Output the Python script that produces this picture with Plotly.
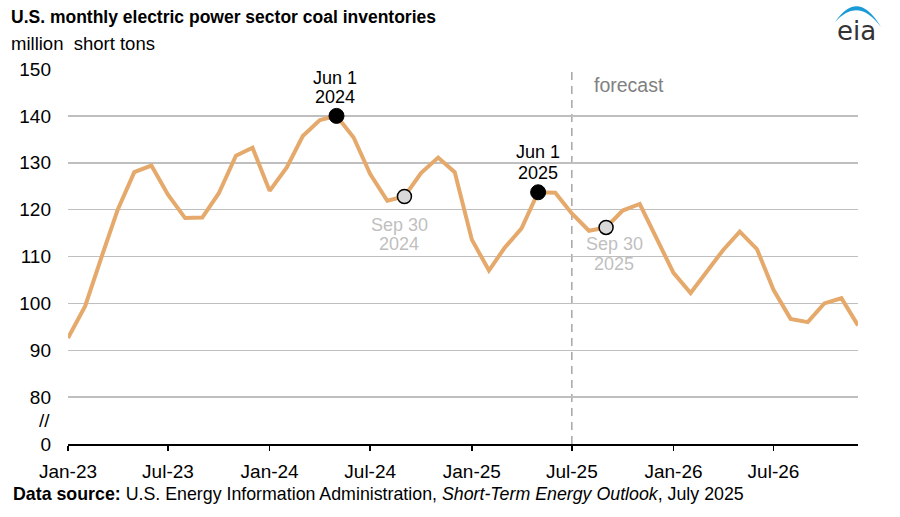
import plotly.graph_objects as go
import pandas as pd

# ---------------- data ----------------
months = pd.date_range("2023-01-01", "2026-12-01", freq="MS").strftime("%Y-%m-%d").tolist()
inventory = [
    92.6, 99.4, 109.3, 120.0, 128.0, 129.4, 123.2, 118.2, 118.3, 123.5, 131.5, 133.2,
    124.0, 129.0, 135.7, 139.1, 140.0, 135.4, 127.6, 121.9, 122.8, 127.8, 131.1, 128.0,
    113.6, 107.0, 111.8, 116.0, 123.7, 123.6, 119.2, 115.5, 116.2, 119.8, 121.2, 113.9,
    106.5, 102.2, 106.5, 111.4, 115.3, 111.6, 102.9, 96.7, 96.0, 100.0, 101.1, 95.3,
]
forecast_start = "2025-07-01"
peak_idx = [16, 28]          # end of May -> "Jun 1"
sep_idx = [20, 32]           # "Sep 30"
peak_labels = [("Jun 1", "2024"), ("Jun 1", "2025")]
sep_labels = [("Sep 30", "2024"), ("Sep 30", "2025")]
y_tickvals = [70, 80, 90, 100, 110, 120, 130, 140, 150]
y_ticktext = ["0", "80", "90", "100", "110", "120", "130", "140", "150"]

# ---------------- layout helpers ----------------
W, H = 900, 517
L, R, T, B = 68, 858, 69, 444
def px(x):
    return (x - L) / (R - L)
def py(y):
    return (B - y) / (B - T)

FONT = "Liberation Sans, Arial, sans-serif"
LINE_COLOR = "#E5A96C"
TICK_SIZE = 19

fig = go.Figure()
fig.add_trace(go.Scatter(x=months, y=inventory, mode="lines",
                         line=dict(color=LINE_COLOR, width=4),
                         hoverinfo="skip"))
fig.add_trace(go.Scatter(x=[months[i] for i in peak_idx], y=[inventory[i] for i in peak_idx],
                         mode="markers",
                         marker=dict(color="black", size=15, line=dict(color="black", width=1))))
fig.add_trace(go.Scatter(x=[months[i] for i in sep_idx], y=[inventory[i] for i in sep_idx],
                         mode="markers",
                         marker=dict(color="#D9D9D9", size=14, line=dict(color="black", width=1.5))))

annotations = []
# (x offset px, y offset of first line px, y offset of second line px) relative to marker
peak_offsets = [(-1, 38, 18.5), (0, 40, 19.5)]
sep_offsets = [(-5, -28, -47.5), (8, -17, -37)]
for i, (l1, l2), (dx, d1, d2) in zip(peak_idx, peak_labels, peak_offsets):
    for txt, dy in ((l1, d1), (l2, d2)):
        annotations.append(dict(x=months[i], y=inventory[i], xref="x", yref="y", text=txt,
                                showarrow=False, yanchor="middle", yshift=dy, xshift=dx,
                                font=dict(family=FONT, size=18, color="black")))
for i, (l1, l2), (dx, d1, d2) in zip(sep_idx, sep_labels, sep_offsets):
    for txt, dy in ((l1, d1), (l2, d2)):
        annotations.append(dict(x=months[i], y=inventory[i], xref="x", yref="y", text=txt,
                                showarrow=False, yanchor="middle", yshift=dy, xshift=dx,
                                font=dict(family=FONT, size=18, color="#BFBFBF")))
annotations += [
    dict(x=px(592), y=py(85), xref="paper", yref="paper", text="forecast", showarrow=False,
         xanchor="left", yanchor="middle", font=dict(family=FONT, size=19.5, color="#808080")),
    dict(x=px(52), y=py(420), xref="paper", yref="paper", text="//", showarrow=False,
         xanchor="right", yanchor="middle", font=dict(family=FONT, size=TICK_SIZE, color="black")),
    dict(x=px(9), y=py(17), xref="paper", yref="paper",
         text="<b>U.S. monthly electric power sector coal inventories</b>", showarrow=False,
         xanchor="left", yanchor="middle", font=dict(family=FONT, size=17.5, color="black")),
    dict(x=px(9), y=py(43), xref="paper", yref="paper", text="million  short tons",
         showarrow=False, xanchor="left", yanchor="middle",
         font=dict(family=FONT, size=18.5, color="black")),
    dict(x=px(11), y=py(494), xref="paper", yref="paper",
         text="<b>Data source:</b> U.S. Energy Information Administration, "
              "<i>Short-Term Energy Outlook</i>, July 2025",
         showarrow=False, xanchor="left", yanchor="middle",
         font=dict(family=FONT, size=17.8, color="black")),
    dict(x=px(856), y=py(31), xref="paper", yref="paper", text="eia", showarrow=False,
         xanchor="center", yanchor="middle",
         font=dict(family="DejaVu Sans, sans-serif", size=26, color="#333333")),
]

# eia arc (crescent)
ax0, ay0, ax1, ay1 = 835, 22, 881, 27
arc_path = (f"M {px(ax0)},{py(ay0)} Q {px(858)},{py(-12)} {px(ax1)},{py(ay1)} "
            f"Q {px(858)},{py(-4)} {px(ax0)},{py(ay0)} Z")

shapes = [
    dict(type="line", xref="x", yref="paper", x0=forecast_start, x1=forecast_start, y0=0, y1=1,
         line=dict(color="#A6A6A6", width=1.5, dash="8px,6px"), layer="below"),
    dict(type="path", xref="paper", yref="paper", path=arc_path,
         fillcolor="#1A9BD7", line=dict(width=0)),
]

fig.update_layout(
    width=W, height=H,
    margin=dict(l=L, r=W - R, t=T, b=H - B, pad=0),
    paper_bgcolor="white", plot_bgcolor="white",
    showlegend=False,
    font=dict(family=FONT, size=16, color="black"),
    annotations=annotations, shapes=shapes,
    xaxis=dict(type="date", range=[months[0], months[-1]], tick0=months[0], dtick="M6",
               tickformat="%b-%y", showgrid=False, showline=True, linecolor="black",
               linewidth=2, ticks="outside", ticklen=5, tickwidth=1.5, tickcolor="black",
               ticklabelstandoff=4,
               tickfont=dict(family=FONT, size=TICK_SIZE, color="black"), zeroline=False,
               fixedrange=True),
    yaxis=dict(range=[70, 150], tickvals=y_tickvals, ticktext=y_ticktext,
               showgrid=True, gridcolor="#BFBFBF", gridwidth=1.5, zeroline=False,
               showline=False, ticks="", ticklabelstandoff=16,
               tickfont=dict(family=FONT, size=TICK_SIZE, color="black"), fixedrange=True),
)

fig.write_html("out.html", config={"displayModeBar": False, "staticPlot": True},
               post_script="document.body.style.margin='0px';document.body.style.overflow='hidden';")
